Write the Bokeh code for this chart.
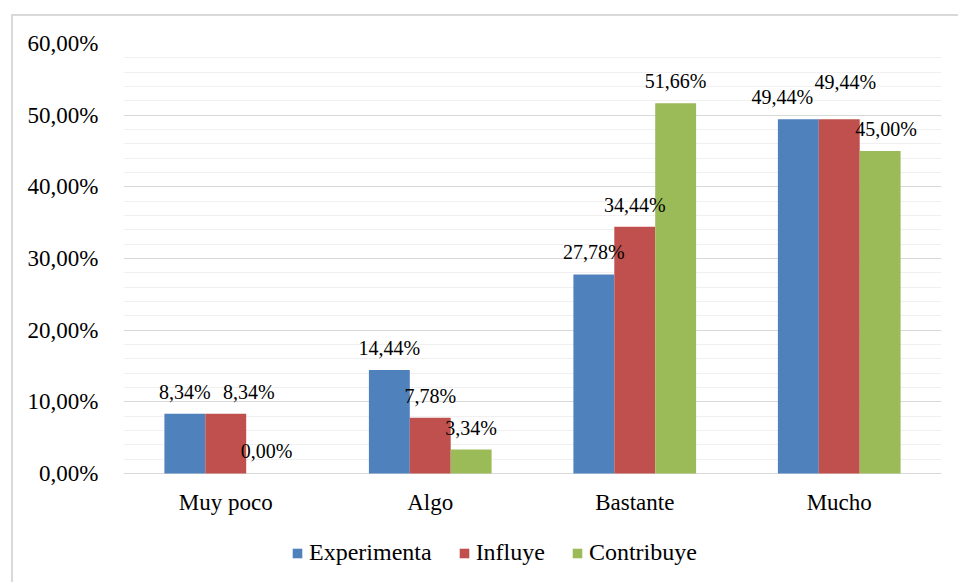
from bokeh.plotting import figure
from bokeh.models import (ColumnDataSource, FactorRange, FixedTicker, Legend, LegendItem, Range1d)
from bokeh.transform import dodge
from bokeh.core.properties import value
from bokeh.embed import file_html
from bokeh.resources import INLINE

categories = ["Muy poco", "Algo", "Bastante", "Mucho"]
series_names = ["Experimenta", "Influye", "Contribuye"]
experimenta = [8.34, 14.44, 27.78, 49.44]
influye = [8.34, 7.78, 34.44, 49.44]
contribuye = [0.00, 3.34, 51.66, 45.00]
y_ticks = [0, 10, 20, 30, 40, 50, 60]
y_tick_labels = ["0,00%", "10,00%", "20,00%", "30,00%", "40,00%", "50,00%", "60,00%"]

colors = ["#4f81bd", "#c0504d", "#9bbb59"]
FONT = "Liberation Serif"

# label pixel nudges (style): per series, per category
x_nudge = [[0, 0, 0, -16], [23, 0, 0, 6], [0, 0, 0, 6]]
y_nudge = [[0, 0, 0, 0], [0, 0, 0, -15], [0, 0, 0, 0]]

def fmt(v):
    return f"{v:.2f}".replace(".", ",") + "%"

data = dict(cat=categories, e=experimenta, i=influye, c=contribuye)
src = ColumnDataSource(data)

# the frame extends below zero to host the category labels and legend
p = figure(x_range=FactorRange(factors=categories, range_padding=0),
           y_range=Range1d(-15.21, 60), width=945, height=566,
           output_backend="svg", toolbar_location=None,
           min_border_left=110, min_border_right=17,
           min_border_top=27, min_border_bottom=0)
p.styles = {"outline": "2px solid #d9d9d9", "margin-left": "13px", "margin-top": "16px"}
p.outline_line_color = None
p.background_fill_color = "white"
p.border_fill_color = "white"

offsets = [-0.2, 0.0, 0.2]
fields = ["e", "i", "c"]
series = [experimenta, influye, contribuye]
renderers = []
for k in range(3):
    r = p.vbar(x=dodge("cat", offsets[k], range=p.x_range), top=fields[k],
               width=0.2, source=src, fill_color=colors[k], line_color=None)
    renderers.append(r)

for k in range(3):
    lsrc = ColumnDataSource(dict(cat=categories, v=series[k],
                                 t=[fmt(v) for v in series[k]],
                                 xo=x_nudge[k],
                                 yo=[-22 + d for d in y_nudge[k]]))
    p.text(x=dodge("cat", offsets[k], range=p.x_range), y="v", text="t",
           source=lsrc, x_offset="xo", y_offset="yo",
           text_align="center", text_baseline="middle",
           text_font=value(FONT), text_font_size="20px", text_color="#000000")

ticker = FixedTicker(ticks=y_ticks, minor_ticks=list(range(0, 61, 2)))
p.yaxis.ticker = ticker
p.yaxis.major_label_overrides = {t: l for t, l in zip(y_ticks, y_tick_labels)}
p.yaxis.axis_line_color = None
p.yaxis.major_tick_line_color = None
p.yaxis.minor_tick_line_color = None
p.yaxis.major_label_standoff = 19
p.yaxis.major_label_text_font = FONT
p.yaxis.major_label_text_font_size = "23px"
p.yaxis.major_label_text_color = "#000000"

p.xaxis.fixed_location = 0
p.xaxis.axis_line_color = None
p.xaxis.major_tick_line_color = None
p.xaxis.minor_tick_line_color = None
p.xaxis.major_label_standoff = 11
p.xaxis.major_label_text_font = FONT
p.xaxis.major_label_text_font_size = "23px"
p.xaxis.major_label_text_color = "#000000"

p.xgrid.grid_line_color = None
p.ygrid.ticker = ticker
p.ygrid.grid_line_color = "#d9d9d9"
p.ygrid.grid_line_width = 1
p.ygrid.minor_grid_line_color = "#f0f0f0"
p.ygrid.minor_grid_line_width = 1

legend = Legend(items=[LegendItem(label=series_names[k], renderers=[renderers[k]]) for k in range(3)],
                orientation="horizontal", location=(168, 16),
                glyph_width=12, glyph_height=12, label_standoff=6, spacing=26,
                padding=0, margin=0, border_line_color=None,
                background_fill_alpha=0,
                label_text_font=FONT, label_text_font_size="24px",
                label_text_color="#000000")
p.add_layout(legend)

open("out.html", "w").write(file_html(p, INLINE))
